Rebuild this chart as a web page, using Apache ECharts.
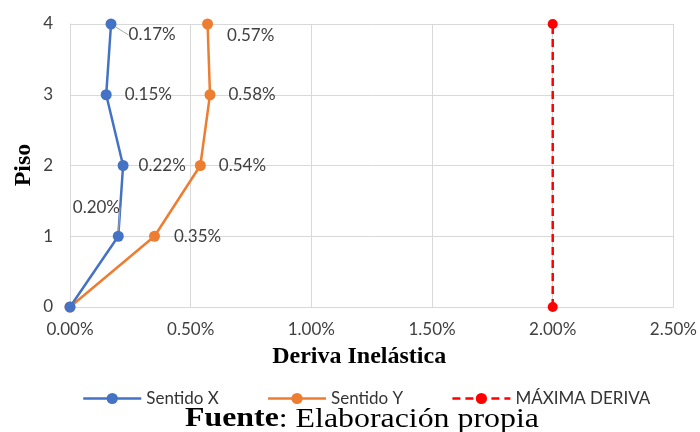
<!DOCTYPE html>
<html><head><meta charset="utf-8">
<script src="https://cdn.jsdelivr.net/npm/echarts@6/dist/echarts.min.js"></script>
<style>html,body{margin:0;padding:0;background:#fff}#c{width:700px;height:432px}</style>
</head><body><div id="c"></div>
<script>
const floors = [0, 1, 2, 3, 4];
const sentidoX = [0, 0.20, 0.22, 0.15, 0.17];
const sentidoY = [0, 0.35, 0.54, 0.58, 0.57];
const maxFloors = [0, 4];
const maxDeriva = [2.00, 2.00];
const xTicks = [0, 0.5, 1.0, 1.5, 2.0, 2.5];
const seriesNames = ['Sentido X', 'Sentido Y', 'MÁXIMA DERIVA'];

const LF = 'Lato, "Open Sans", sans-serif';
const SF = '"Liberation Serif", "Times New Roman", serif';
const fmt = v => v.toFixed(2) + '%';

// per-point label tweaks (index by floor)
const xLabelCfg = {
  1: {position: 'right', distance: 13, line: true},
  2: {position: 'right', distance: 10},
  3: {position: 'right', distance: 13},
  4: {position: 'right', distance: 12, line: true}
};
const yLabelCfg = {
  1: {position: 'right', distance: 14},
  2: {position: 'right', distance: 13},
  3: {position: 'right', distance: 13},
  4: {position: 'right', distance: 14, offset: [0, 12]}
};

function build(vals, cfg) {
  return vals.map((v, i) => {
    const c = cfg[i];
    const item = {value: [v, floors[i]]};
    if (!c) { item.label = {show: false}; return item; }
    item.label = {show: true, position: c.position, distance: c.distance || 5, offset: c.offset || [0, 0]};
    if (c.line) item.labelLine = {show: true, lineStyle: {color: '#a6a6a6', width: 1}};
    return item;
  });
}

const chart = echarts.init(document.getElementById('c'));
chart.setOption({
  animation: false,
  grid: {left: 70, right: 26, top: 24, bottom: 125},
  xAxis: {
    type: 'value', min: 0, max: 2.5, interval: 0.5,
    axisLine: {show: true, lineStyle: {color: '#d9d9d9'}},
    axisTick: {show: false},
    splitLine: {show: true, lineStyle: {color: '#d9d9d9', width: 1}},
    axisLabel: {formatter: v => fmt(v), color: '#404040', fontFamily: LF, fontSize: 17, margin: 14},
    name: 'Deriva Inelástica', nameLocation: 'middle', nameGap: 38,
    nameTextStyle: {fontFamily: SF, fontWeight: 'bold', fontSize: 24, color: '#000', padding: [0, 25, 0, 0]}
  },
  yAxis: {
    type: 'value', min: 0, max: 4, interval: 1,
    axisLine: {show: true, lineStyle: {color: '#d9d9d9'}},
    axisTick: {show: false},
    splitLine: {show: true, lineStyle: {color: '#d9d9d9', width: 1}},
    axisLabel: {color: '#404040', fontFamily: LF, fontSize: 17, margin: 17}
  },
  legend: {
    left: 77, top: 385, itemWidth: 58, itemHeight: 14, itemGap: 48,
    textStyle: {fontFamily: LF, fontSize: 17, color: '#333'},
    data: seriesNames.map(n => ({name: n, lineStyle: {width: 2.5}}))
  },
  graphic: [
    {
      type: 'text', x: 24, y: 165, rotation: Math.PI / 2,
      style: {text: 'Piso', font: 'bold 24px ' + SF, fill: '#000', align: 'center', verticalAlign: 'middle'}
    },
    {
      type: 'text', left: 185, top: 406, scaleX: 1.18,
      style: {
        text: '{b|Fuente}: Elaboración propia',
        rich: {b: {fontWeight: 'bold', fontFamily: SF, fontSize: 27, fill: '#000'}},
        font: '27px ' + SF, fill: '#000'
      }
    }
  ],
  series: [
    {
      name: seriesNames[0], type: 'line', data: build(sentidoX, xLabelCfg),
      symbol: 'circle', symbolSize: 11, color: '#4472C4',
      lineStyle: {width: 2.5, color: '#4472C4'},
      label: {formatter: p => fmt(p.value[0]), color: '#404040', fontFamily: LF, fontSize: 17},
      labelLine: {lineStyle: {color: '#a6a6a6'}},
      labelLayout: p => (p.dataIndex === 1 ? {dx: -64, dy: -29} : p.dataIndex === 4 ? {dy: 11} : {}),
      z: 3
    },
    {
      name: seriesNames[1], type: 'line', data: build(sentidoY, yLabelCfg),
      symbol: 'circle', symbolSize: 11, color: '#ED7D31',
      lineStyle: {width: 2.5, color: '#ED7D31'},
      label: {formatter: p => fmt(p.value[0]), color: '#404040', fontFamily: LF, fontSize: 17}, z: 2
    },
    {
      name: seriesNames[2], type: 'line',
      data: maxDeriva.map((v, i) => [v, maxFloors[i]]),
      symbol: 'circle', symbolSize: 10, color: '#FF0000',
      lineStyle: {width: 2.5, color: '#FF0000', type: [8, 5]},
      label: {show: false}, z: 2
    }
  ]
});
</script></body></html>
